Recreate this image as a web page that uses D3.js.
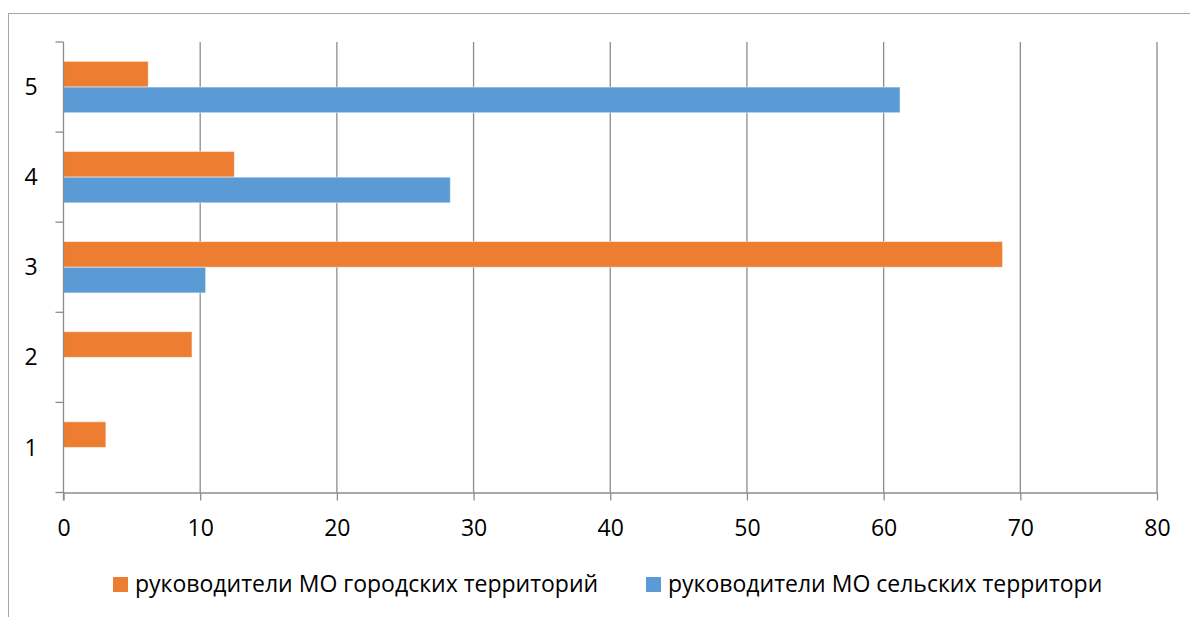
<!DOCTYPE html>
<html>
<head>
<meta charset="utf-8">
<script src="https://cdn.jsdelivr.net/npm/d3@7"></script>
<style>
  body { margin: 0; background: #fff; }
  text { font-family: "Open Sans", sans-serif; fill: #000; }
</style>
</head>
<body>
<div id="chart"></div>
<script>
var width = 1190
var height = 617

// data
var categories = ["1", "2", "3", "4", "5"]
var seriesNames = ["руководители МО городских территорий", "руководители МО сельских территори"]
var urban = [3.1, 9.4, 68.7, 12.5, 6.2]
var rural = [0, 0, 10.4, 28.3, 61.2]
var xTicks = [0, 10, 20, 30, 40, 50, 60, 70, 80]
var colors = ["#ED7D31", "#5B9BD5"]

var plotLeft = 63.5, plotRight = 1157, plotTop = 42, plotBottom = 492.5
var axisColor = "#8c8c8c"
var fontSize = 23

var svg = d3.select("#chart").append("svg")
    .attr("width", width)
    .attr("height", height)

// outer frame
svg.append("rect")
    .attr("x", 8.5).attr("y", 13.5)
    .attr("width", 1200).attr("height", 700)
    .attr("fill", "none")
    .attr("stroke", "#a6a6a6")
    .attr("stroke-width", 1)

var x = d3.scaleLinear().domain([0, 80]).range([plotLeft, plotRight])

// category 5 on top
var y = d3.scaleBand().domain(categories.slice().reverse()).range([plotTop, plotBottom]).paddingInner(0.43).paddingOuter(0.215)
var y1 = d3.scaleBand().domain([0, 1]).range([0, y.bandwidth()])

// grid lines
svg.append("g").selectAll("line")
    .data(xTicks.slice(1))
    .enter().append("line")
    .attr("x1", function(d){ return x(d); })
    .attr("x2", function(d){ return x(d); })
    .attr("y1", plotTop).attr("y2", plotBottom)
    .attr("stroke", axisColor).attr("stroke-width", 1.3)

// bars
var rows = categories.map(function(c, i){ return {cat: c, vals: [urban[i], rural[i]]}; })
var groups = svg.append("g").selectAll("g")
    .data(rows)
    .enter().append("g")
    .attr("transform", function(d){ return "translate(0," + y(d.cat) + ")"; })

groups.selectAll("rect")
    .data(function(d){ return d.vals.map(function(v, j){ return {v: v, j: j}; }); })
    .enter().append("rect")
    .filter(function(d){ return d.v > 0; })
    .attr("x", x(0))
    .attr("y", function(d){ return y1(d.j); })
    .attr("width", function(d){ return x(d.v) - x(0); })
    .attr("height", y1.bandwidth())
    .attr("fill", function(d){ return colors[d.j]; })
    .attr("stroke", "#fff").attr("stroke-opacity", 0.5).attr("stroke-width", 1)

// x axis
var xAxis = svg.append("g")
    .attr("transform", "translate(0," + plotBottom + ")")
    .call(d3.axisBottom(x).tickValues(xTicks).tickSize(8).tickPadding(19).tickSizeOuter(0))
xAxis.select(".domain").attr("stroke", axisColor).attr("stroke-width", 1.3)
xAxis.selectAll(".tick line").attr("stroke", axisColor).attr("stroke-width", 1.3)
xAxis.selectAll("text").attr("font-size", fontSize).attr("font-family", "'Open Sans', sans-serif")

// y axis: ticks at band borders
var yAxis = svg.append("g")
var borders = d3.range(categories.length + 1).map(function(i){ return plotTop + i * (plotBottom - plotTop) / categories.length; })
yAxis.append("line")
    .attr("x1", plotLeft).attr("x2", plotLeft).attr("y1", plotTop).attr("y2", plotBottom + 8)
    .attr("stroke", axisColor).attr("stroke-width", 1.3)
yAxis.selectAll(".yt").data(borders).enter().append("line")
    .attr("x1", plotLeft - 8).attr("x2", plotLeft)
    .attr("y1", function(d){ return d; }).attr("y2", function(d){ return d; })
    .attr("stroke", axisColor).attr("stroke-width", 1.3)
yAxis.selectAll("text").data(categories).enter().append("text")
    .attr("x", 31)
    .attr("y", function(d){ return y(d) + y.bandwidth() / 2; })
    .attr("dy", "0.35em")
    .attr("text-anchor", "middle")
    .attr("font-size", fontSize)
    .text(function(d){ return d; })

// legend
var legendX = [113, 646]
var legend = svg.append("g").selectAll("g")
    .data(seriesNames)
    .enter().append("g")
    .attr("transform", function(d, i){ return "translate(" + legendX[i] + ",584)"; })
legend.append("rect")
    .attr("x", 0).attr("y", -7).attr("width", 15).attr("height", 15)
    .attr("fill", function(d, i){ return colors[i]; })
legend.append("text")
    .attr("x", 22).attr("y", 0).attr("dy", "0.35em")
    .attr("font-size", fontSize)
    .text(function(d){ return d; })
</script>
</body>
</html>
